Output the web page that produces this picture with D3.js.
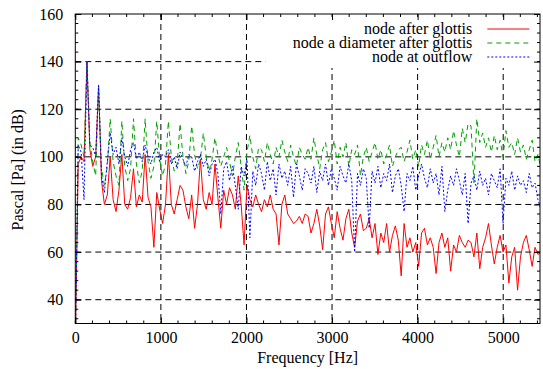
<!DOCTYPE html>
<html>
<head>
<meta charset="utf-8">
<script src="https://d3js.org/d3.v7.min.js"></script>
<style>
  body { margin: 0; background: #fff; }
  svg text { font-family: "Liberation Serif", "Times New Roman", Times, "DejaVu Serif", serif !important; }
</style>
</head>
<body>
<div id="chart"></div>
<script>
// spectrum bins, 34 Hz apart
let freqStep = 34;

let seriesNames = ["node after glottis", "node a diameter after glottis", "node at outflow"];

let afterGlottis = [
  20, 97, 100, 98, 140, 103, 96, 100,
  130, 90, 80, 84, 100, 82, 77, 86,
  101, 80, 78, 83, 95, 79, 84, 81,
  101, 83, 79, 62, 85, 78, 72, 80,
  101, 80, 76, 82, 88, 86, 79, 74,
  84, 70, 80, 99, 82, 78, 85, 80,
  97, 83, 70, 86, 80, 87, 84, 78,
  92, 80, 63, 88, 82, 79, 84, 80,
  77, 82, 79, 84, 78, 76, 63, 80,
  84, 76, 74, 72, 73, 75, 72, 76,
  75, 68, 72, 78, 71, 61, 76, 79,
  72, 66, 77, 70, 65, 74, 78, 68,
  62, 73, 76, 69, 70, 74, 66, 72,
  59, 68, 64, 72, 60, 67, 71, 65,
  50, 72, 62, 66, 60, 64, 54, 68,
  70, 63, 66, 62, 51, 64, 68, 62,
  66, 52, 63, 60, 67, 64, 62, 65,
  64, 58, 68, 53, 62, 66, 72, 63,
  55, 62, 67, 60, 63, 47, 58, 62,
  44, 58, 64, 67, 61, 54, 62, 59,
  60
];

let diameterAfter = [
  20, 108, 105, 100, 140, 106, 98, 92,
  129, 95, 88, 96, 116, 98, 92, 88,
  115, 96, 90, 95, 116, 97, 89, 94,
  116, 98, 91, 96, 115, 99, 92, 97,
  115, 100, 94, 97, 114, 100, 93, 98,
  113, 101, 95, 99, 110, 100, 94, 99,
  108, 101, 96, 100, 104, 98, 92, 100,
  106, 96, 86, 102, 109, 100, 95, 104,
  103, 98, 106, 101, 97, 104, 100, 107,
  102, 98, 105, 100, 96, 104, 101, 99,
  104, 99, 108, 101, 95, 103, 106, 98,
  102, 107, 97, 104, 100, 106, 96, 103,
  101, 105, 92, 100, 104, 98, 102, 106,
  99, 103, 97, 101, 105, 96, 100, 103,
  104, 98, 102, 107, 99, 103, 96, 105,
  101, 107, 99, 104, 109, 100, 106, 102,
  108, 103, 111, 105, 100, 112, 106, 114,
  113, 89, 116, 106, 110, 104, 108, 102,
  109, 103, 107, 100, 111, 104, 106, 101,
  108, 102, 105, 99, 103, 107, 98, 101,
  95
];

let atOutflow = [
  20, 105, 102, 82, 140, 105, 104, 100,
  130, 92, 85, 98, 110, 101, 104, 97,
  108, 100, 96, 103, 106, 99, 102, 98,
  105, 100, 97, 102, 104, 98, 101, 100,
  103, 97, 100, 95, 102, 99, 96, 101,
  100, 94, 98, 101, 96, 99, 92, 97,
  99, 93, 76, 95, 98, 90, 96, 88,
  78, 96, 92, 99, 66, 94, 88, 97,
  93, 86, 98, 90, 95, 84, 97, 91,
  94, 88, 96, 83, 97, 92, 86, 95,
  93, 89, 96, 85, 94, 90, 97, 88,
  95, 91, 86, 96, 92, 89, 97, 90,
  60, 93, 88, 95, 91, 70, 94, 89,
  96, 87, 93, 90, 97, 85, 92, 95,
  88, 77, 93, 90, 96, 86, 92, 97,
  91, 87, 95, 89, 93, 84, 96, 77,
  86, 92, 88, 95, 90, 84, 93, 72,
  89, 92, 86, 94, 88, 91, 84, 93,
  90, 87, 95, 72, 91, 88, 94, 86,
  92, 88, 90, 85, 93, 87, 89, 82,
  78
];

let xTicks = [0, 1000, 2000, 3000, 4000, 5000];
let yTicks = [40, 60, 80, 100, 120, 140, 160];

let colors = ["#ff0000", "#00a000", "#0000ff"];
let dashes = [null, "5,4", "2,2"];

let totalW = 543, totalH = 369;
let margin = { top: 14, right: 3, bottom: 45.5, left: 75.3 },
  width = totalW - margin.left - margin.right,
  height = totalH - margin.top - margin.bottom;

let svg = d3.select("#chart").append("svg")
  .attr("width", totalW)
  .attr("height", totalH)
  .append("g")
  .attr("transform", "translate(" + margin.left + "," + margin.top + ")");

let x = d3.scaleLinear().domain([0, 5430]).range([0, width]);
let y = d3.scaleLinear().domain([30, 160]).range([height, 0]);

// grid
svg.append("g").selectAll("line")
  .data(xTicks.filter(d => d > 0))
  .enter().append("line")
  .attr("x1", d => x(d)).attr("x2", d => x(d))
  .attr("y1", 0).attr("y2", height)
  .attr("stroke", "#000").attr("stroke-dasharray", "6,4").attr("stroke-width", 1);
svg.append("g").selectAll("line")
  .data(yTicks.filter(d => d < 160))
  .enter().append("line")
  .attr("x1", 0).attr("x2", width)
  .attr("y1", d => y(d)).attr("y2", d => y(d))
  .attr("stroke", "#000").attr("stroke-dasharray", "6,4").attr("stroke-width", 1);

// key area hides the grid
svg.append("rect")
  .attr("x", 190).attr("y", 0)
  .attr("width", width - 190).attr("height", 54)
  .attr("fill", "#fff");

svg.append("clipPath").attr("id", "clip")
  .append("rect").attr("width", width).attr("height", height);

let line = d3.line()
  .x((d, i) => x(i * freqStep))
  .y(d => y(d));

[afterGlottis, diameterAfter, atOutflow].forEach((vals, k) => {
  svg.append("path")
    .datum(vals)
    .attr("clip-path", "url(#clip)")
    .attr("fill", "none")
    .attr("stroke", colors[k])
    .attr("stroke-width", 1)
    .attr("stroke-dasharray", dashes[k])
    .attr("d", line);
});

// axes with mirrored ticks
let xMinor = d3.range(0, 5431, 200);
let yMinor = d3.range(32, 160, 4);

svg.append("g")
  .attr("transform", "translate(0," + height + ")")
  .call(d3.axisBottom(x).tickValues(xTicks).tickSize(-6).tickPadding(8).tickFormat(d3.format("d")))
  .call(g => g.select(".domain").remove());
svg.append("g")
  .call(d3.axisTop(x).tickValues(xTicks).tickSize(-6).tickFormat(""))
  .call(g => g.select(".domain").remove());
svg.append("g")
  .call(d3.axisLeft(y).tickValues(yTicks).tickSize(-6).tickPadding(12))
  .call(g => g.select(".domain").remove());
svg.append("g")
  .attr("transform", "translate(" + width + ",0)")
  .call(d3.axisRight(y).tickValues(yTicks).tickSize(-6).tickFormat(""))
  .call(g => g.select(".domain").remove());

let minor = svg.append("g").attr("stroke", "#000");
xMinor.forEach(v => {
  minor.append("line").attr("x1", x(v)).attr("x2", x(v)).attr("y1", height).attr("y2", height - 3);
  minor.append("line").attr("x1", x(v)).attr("x2", x(v)).attr("y1", 0).attr("y2", 3);
});
yMinor.forEach(v => {
  minor.append("line").attr("x1", 0).attr("x2", 3).attr("y1", y(v)).attr("y2", y(v));
  minor.append("line").attr("x1", width).attr("x2", width - 3).attr("y1", y(v)).attr("y2", y(v));
});

svg.selectAll(".tick text")
  .attr("font-size", 16)
  .attr("fill", "#000");
svg.selectAll(".tick line").attr("stroke", "#000");

svg.append("rect")
  .attr("width", width).attr("height", height)
  .attr("fill", "none").attr("stroke", "#000").attr("stroke-width", 1);

// legend
let key = svg.append("g");
seriesNames.forEach((name, k) => {
  let ky = 15 + k * 14;
  key.append("text")
    .attr("x", 397).attr("y", ky)
    .attr("dy", "0.33em")
    .attr("text-anchor", "end")
    .attr("font-size", 16)
    .text(name);
  key.append("line")
    .attr("x1", 412).attr("x2", 454)
    .attr("y1", ky).attr("y2", ky)
    .attr("stroke", colors[k])
    .attr("stroke-width", 1)
    .attr("stroke-dasharray", dashes[k]);
});

// axis titles
svg.append("text")
  .attr("x", width / 2).attr("y", height + 39)
  .attr("text-anchor", "middle")
  .attr("font-size", 16)
  .text("Frequency [Hz]");
svg.append("text")
  .attr("transform", "translate(" + (-52) + "," + (height / 2 + 1) + ") rotate(-90)")
  .attr("text-anchor", "middle")
  .attr("font-size", 16)
  .text("Pascal [Pa] (in dB)");
</script>
</body>
</html>
